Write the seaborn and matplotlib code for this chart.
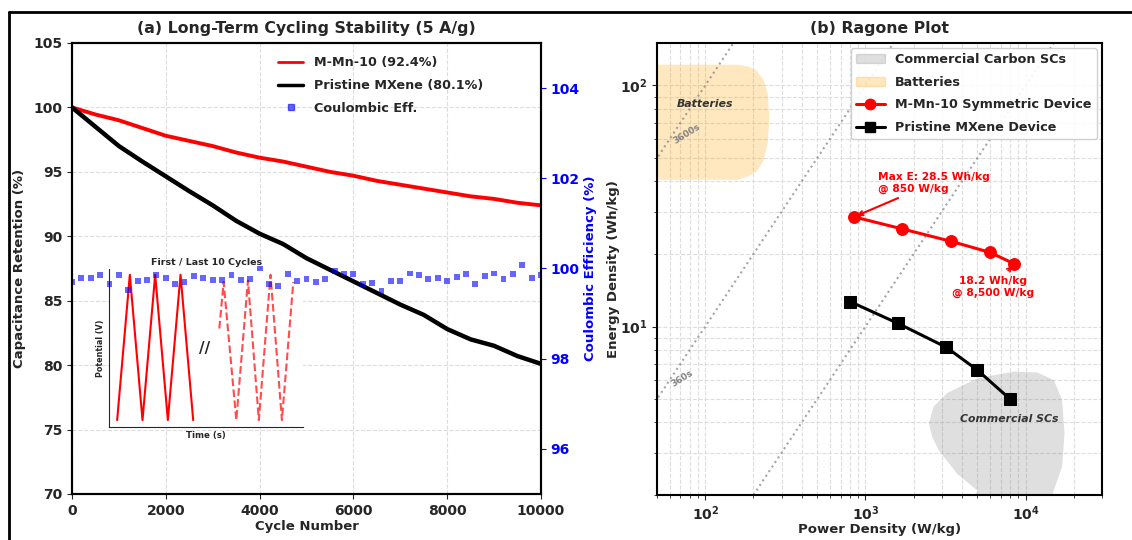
import numpy as np
import pandas as pd
import matplotlib
matplotlib.use("Agg")
import matplotlib.pyplot as plt
import seaborn as sns
from matplotlib.lines import Line2D
from matplotlib.patches import Patch

# cycling data
cycles = [0, 500, 1000, 1500, 2000, 2500, 3000, 3500, 4000, 4500, 5000,
          5500, 6000, 6500, 7000, 7500, 8000, 8500, 9000, 9500, 10000]
mmn10_ret = [100, 99.45, 99.0, 98.4, 97.8, 97.4, 97.0, 96.5, 96.1, 95.8, 95.4,
             95.0, 94.7, 94.3, 94.0, 93.7, 93.4, 93.1, 92.9, 92.6, 92.4]
pristine_ret = [100, 98.5, 97.0, 95.8, 94.65, 93.5, 92.4, 91.2, 90.2, 89.4, 88.3,
                87.4, 86.5, 85.6, 84.7, 83.9, 82.8, 82.0, 81.5, 80.7, 80.1]

ce_cycles = list(range(0, 10001, 200))
ce_values = [99.70, 99.79, 99.79, 99.85, 99.66, 99.85, 99.52, 99.72, 99.74, 99.86,
             99.79, 99.65, 99.70, 99.83, 99.79, 99.74, 99.74, 99.86, 99.74, 99.77,
             100.0, 99.66, 99.61, 99.87, 99.72, 99.76, 99.70, 99.77, 99.94, 99.89,
             99.88, 99.66, 99.68, 99.50, 99.72, 99.72, 99.89, 99.85, 99.77, 99.79,
             99.72, 99.82, 99.87, 99.65, 99.83, 99.89, 99.76, 99.87, 100.07, 99.78,
             99.85]

# inset GCD sketch
gcd_first_t = [0, 0.5, 1.0, 1.5, 2.0, 2.5, 3.0]
gcd_first_v = [0, 1, 0, 1, 0, 1, 0]
gcd_last_t = [4.03, 4.2, 4.7, 5.16, 5.59, 6.05, 6.5, 6.95]
gcd_last_v = [0.63, 0.95, 0, 0.96, 0, 1.0, 0, 0.95]

# ragone data
mmn_power = [850, 1700, 3400, 6000, 8500]
mmn_energy = [28.5, 25.4, 22.6, 20.3, 18.2]
pristine_power = [800, 1600, 3200, 5000, 8000]
pristine_energy = [12.7, 10.3, 8.2, 6.6, 5.0]

bat_P = [30, 158, 185, 210, 232, 246, 251, 246, 232, 210, 185, 158, 30]
bat_E = [122, 122, 120, 115, 105, 92, 74, 58, 49, 44, 42, 40.6, 40.6]
sc_P = [2490, 2670, 3240, 4990, 8450, 11800, 15000, 16900, 17500, 16900, 15000,
        14000, 4700, 4990, 3740, 2870, 2610]
sc_E = [3.97, 4.66, 5.3, 6.1, 6.5, 6.45, 6.0, 4.96, 3.6, 2.62, 2.09,
        1.8, 1.8, 2.09, 2.45, 3.07, 3.49]

time_consts = [3600, 360, 36]

sns.set_style("ticks")
plt.rcParams["font.family"] = ["DejaVu Sans"]
plt.rcParams["font.weight"] = "bold"
plt.rcParams["axes.labelweight"] = "bold"
plt.rcParams["axes.titleweight"] = "bold"

TICK = 10
LAB = 9.5
LEG = 9.2

fig = plt.figure(figsize=(11.32, 5.4), dpi=100)
ax1 = fig.add_axes([0.0636, 0.0852, 0.4143, 0.8352])
ax3 = fig.add_axes([0.5804, 0.0833, 0.3931, 0.8370])

# ---------- (a) cycling ----------
cyc_df = pd.DataFrame({"cycle": cycles, "mmn": mmn10_ret, "pristine": pristine_ret})
sns.lineplot(data=cyc_df, x="cycle", y="mmn", color="red", lw=2.8, ax=ax1)
sns.lineplot(data=cyc_df, x="cycle", y="pristine", color="black", lw=3.2, ax=ax1)
ax1.set_xlim(0, 10000)
ax1.set_ylim(70, 105)
ax1.set_xticks(range(0, 10001, 2000))
ax1.set_yticks(range(70, 106, 5))
ax1.grid(True, ls="--", color="#dddddd", lw=0.8)
ax1.set_xlabel("Cycle Number", fontsize=LAB, labelpad=2)
ax1.set_ylabel("Capacitance Retention (%)", fontsize=LAB, labelpad=5)
ax1.set_title("(a) Long-Term Cycling Stability (5 A/g)", fontsize=11.3, pad=7)
ax1.tick_params(labelsize=TICK)

ax2 = ax1.twinx()
sns.scatterplot(x=ce_cycles, y=ce_values, marker="s", s=18, color="blue",
                alpha=0.6, edgecolor="none", ax=ax2)
ax2.set_ylim(95, 105)
ax2.set_yticks([96, 98, 100, 102, 104])
ax2.tick_params(axis="y", colors="blue", labelsize=TICK)
ax2.set_ylabel("Coulombic Efficiency (%)", color="blue", fontsize=LAB, labelpad=3)

for a in (ax1, ax2):
    for s in a.spines.values():
        s.set_linewidth(1.5)
        s.set_color("black")

handles = [Line2D([], [], color="red", lw=2),
           Line2D([], [], color="black", lw=2.5),
           Line2D([], [], color="blue", alpha=0.6, marker="s", ls="none", ms=4)]
ax2.legend(handles, ["M-Mn-10 (92.4%)", "Pristine MXene (80.1%)", "Coulombic Eff."],
           loc="upper right", bbox_to_anchor=(0.895, 0.99), frameon=False,
           fontsize=LEG, borderaxespad=0.3, labelspacing=0.75)

# inset
axin = ax1.inset_axes([0.079, 0.149, 0.414, 0.350])
axin.plot(gcd_first_t, gcd_first_v, color="red", lw=1.5)
axin.plot(gcd_last_t, gcd_last_v, color="red", lw=1.5, ls="--", alpha=0.7)
axin.text(3.46, 0.49, "//", fontsize=11, ha="center", va="center")
axin.set_xlim(-0.32, 7.34)
axin.set_ylim(-0.046, 1.04)
axin.set_xticks([])
axin.set_yticks([])
axin.spines["top"].set_visible(False)
axin.spines["right"].set_visible(False)
axin.set_title("First / Last 10 Cycles", fontsize=6.8, pad=3)
axin.set_xlabel("Time (s)", fontsize=6.2, labelpad=3)
axin.set_ylabel("Potential (V)", fontsize=5.8, labelpad=3)

# ---------- (b) ragone ----------
ax3.set_xscale("log")
ax3.set_yscale("log")
ax3.set_xlim(50, 30000)
ax3.set_ylim(2, 150)

ax3.fill(sc_P, sc_E, color="gray", alpha=0.25, lw=0)
ax3.fill(bat_P, bat_E, color="orange", alpha=0.25, lw=0)

p_line = np.array([30, 40000])
for t in time_consts:
    ax3.plot(p_line, p_line * t / 3600, ls=":", color="gray", lw=1.5, alpha=0.7)
ax3.text(77, 63, "3600s", fontsize=6.5, color="gray", rotation=32, ha="center", va="center")
ax3.text(72, 6.1, "360s", fontsize=6.5, color="gray", rotation=32, ha="center", va="center")

rag_mmn = pd.DataFrame({"P": mmn_power, "E": mmn_energy})
rag_pri = pd.DataFrame({"P": pristine_power, "E": pristine_energy})
sns.lineplot(data=rag_mmn, x="P", y="E", color="red", lw=2.2, marker="o", ms=8.5,
             markeredgecolor="red", ax=ax3)
sns.lineplot(data=rag_pri, x="P", y="E", color="black", lw=2.2, marker="s", ms=8.5,
             markeredgecolor="black", ax=ax3)

ax3.text(100, 84, "Batteries", fontsize=7.8, style="italic", color="#333333",
         ha="center", va="center")
ax3.text(7900, 4.15, "Commercial SCs", fontsize=7.8, style="italic", color="#333333",
         ha="center", va="center")

ax3.annotate("Max E: 28.5 Wh/kg\n@ 850 W/kg", xy=(mmn_power[0], mmn_energy[0]),
             xytext=(1200, 39.5), color="red", fontsize=7.7, ha="left", va="center",
             arrowprops=dict(arrowstyle="->", color="red", lw=1.5))
ax3.annotate("18.2 Wh/kg\n@ 8,500 W/kg", xy=(mmn_power[-1], mmn_energy[-1]),
             xytext=(6300, 14.6), color="red", fontsize=7.7, ha="center", va="center",
             arrowprops=dict(arrowstyle="->", color="red", lw=1.2))

ax3.grid(True, which="both", ls="--", color="#dddddd", lw=0.8)
ax3.set_xlabel("Power Density (W/kg)", fontsize=LAB, labelpad=0)
ax3.set_ylabel("Energy Density (Wh/kg)", fontsize=LAB, labelpad=0)
ax3.set_title("(b) Ragone Plot", fontsize=11.3, pad=7)
ax3.tick_params(labelsize=TICK)
for s in ax3.spines.values():
    s.set_linewidth(1.5)
    s.set_color("black")

rag_handles = [Patch(color="gray", alpha=0.25), Patch(color="orange", alpha=0.25),
               Line2D([], [], color="red", lw=2.2, marker="o", ms=7.5),
               Line2D([], [], color="black", lw=2.2, marker="s", ms=7.5)]
ax3.legend(rag_handles, ["Commercial Carbon SCs", "Batteries",
                         "M-Mn-10 Symmetric Device", "Pristine MXene Device"],
           loc="upper right", fontsize=LEG, framealpha=0.9, borderaxespad=0.4,
           labelspacing=0.75, handlelength=2.3)

# figure frame (left and top edges visible)
fig.add_artist(Line2D([9 / 1132, 9 / 1132], [0, 1 - 12 / 540], color="black", lw=2))
fig.add_artist(Line2D([9 / 1132, 1], [1 - 12 / 540, 1 - 12 / 540], color="black", lw=2))

fig.savefig("out.png", dpi=100)
